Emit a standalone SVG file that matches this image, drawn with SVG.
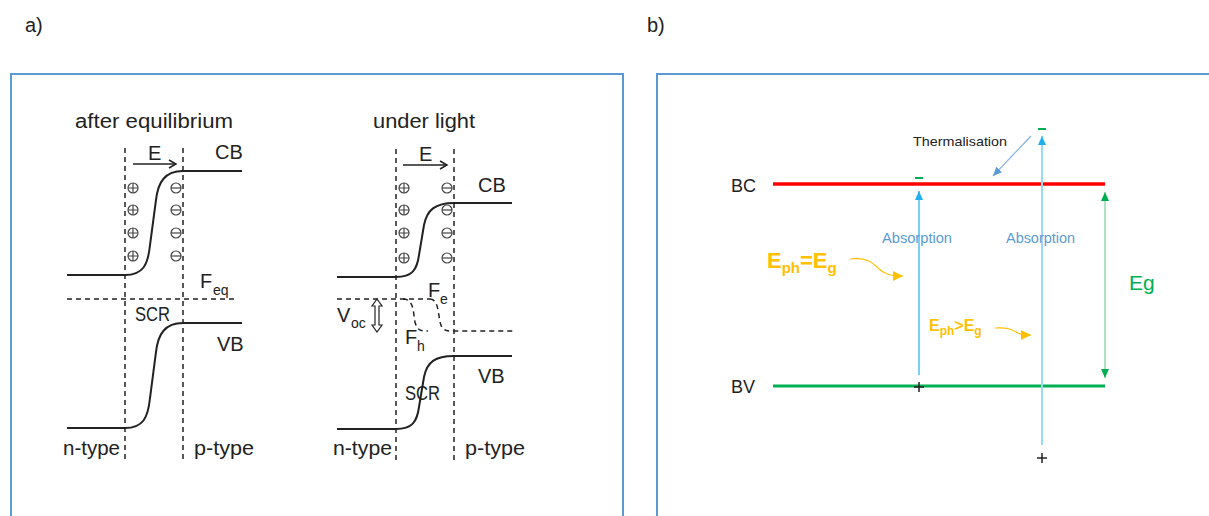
<svg xmlns="http://www.w3.org/2000/svg" xmlns:xlink="http://www.w3.org/1999/xlink" width="1209" height="516" viewBox="0 0 1209 516">
<style>
.t{font-family:"Liberation Sans",Arial,sans-serif;fill:#222;}
.a20{font-size:20px;}
.s14{font-size:14px;}
.band{fill:none;stroke:#222;stroke-width:2;}
.dash{fill:none;stroke:#222;stroke-width:1.5;stroke-dasharray:5,4;}
.box{fill:none;stroke:#5b9bd5;stroke-width:2;}
.chg{fill:none;stroke:#444;stroke-width:1.2;}
.or{font-family:"Liberation Sans",Arial,sans-serif;fill:#ffc000;font-weight:bold;}
.blu{font-family:"Liberation Sans",Arial,sans-serif;fill:#5b9bd5;font-size:14px;}
</style>
<defs>
<marker id="open" markerWidth="10" markerHeight="10" refX="8" refY="5" orient="auto" markerUnits="userSpaceOnUse">
<path d="M1,1 L8,5 L1,9" fill="none" stroke="#222" stroke-width="1.5"/>
</marker>
<marker id="cy" markerWidth="10" markerHeight="10" refX="9" refY="5" orient="auto" markerUnits="userSpaceOnUse">
<path d="M0,1 L9,5 L0,9 Z" fill="#1fb0f0"/>
</marker>
<marker id="gr" markerWidth="10" markerHeight="10" refX="9" refY="5" orient="auto-start-reverse" markerUnits="userSpaceOnUse">
<path d="M0,1 L9,5 L0,9 Z" fill="#00b050"/>
</marker>
<marker id="bl" markerWidth="10" markerHeight="10" refX="9" refY="5" orient="auto" markerUnits="userSpaceOnUse">
<path d="M0,1 L9,5 L0,9 Z" fill="#5b9bd5"/>
</marker>
<marker id="ora" markerWidth="12" markerHeight="12" refX="10" refY="6" orient="auto" markerUnits="userSpaceOnUse">
<path d="M0,1 L10,6 L0,11 Z" fill="#ffc000"/>
</marker>
<g id="pl"><circle r="5" class="chg"/><path d="M-5,0H5M0,-5V5" class="chg"/></g>
<g id="mi"><circle r="5" class="chg"/><path d="M-5,0H5" class="chg"/></g>
</defs>
<rect width="1209" height="516" fill="#fff"/>

<g id="labels">
<text x="25" y="32" class="t" font-size="20">a)</text>
<text x="647" y="32" class="t" font-size="20">b)</text>
</g>

<g id="panel-a">
<rect x="11" y="74" width="612" height="470" class="box"/>

<g id="eq-diagram">
<text x="75" y="128" class="t a20" textLength="158" lengthAdjust="spacingAndGlyphs">after equilibrium</text>
<path d="M125,148 V460 M183,148 V460" class="dash"/>
<path d="M67,299 H235" class="dash"/>
<path d="M133,164 H176" fill="none" stroke="#222" stroke-width="1.5" marker-end="url(#open)"/>
<text x="148" y="160" class="t a20">E</text>
<text x="215" y="159" class="t a20">CB</text>
<path d="M67,275 H125 C143,275 148,265 150,245 L156,200 C158,182 165,171 183,171 H242" class="band"/>
<use xlink:href="#pl" x="133" y="188"/><use xlink:href="#pl" x="133" y="210"/><use xlink:href="#pl" x="133" y="233"/><use xlink:href="#pl" x="133" y="256"/>
<use xlink:href="#mi" x="176" y="188"/><use xlink:href="#mi" x="176" y="210"/><use xlink:href="#mi" x="176" y="233"/><use xlink:href="#mi" x="176" y="256"/>
<text x="200" y="288" class="t a20">F</text><text x="213" y="295" class="t s14">eq</text>
<text x="135" y="321" class="t a20" textLength="35" lengthAdjust="spacingAndGlyphs">SCR</text>
<path d="M67,428 H125 C143,428 148,418 150,398 L156,352 C158,334 165,323 183,323 H242" class="band"/>
<text x="217" y="351" class="t a20">VB</text>
<text x="63" y="455" class="t a20" textLength="57" lengthAdjust="spacingAndGlyphs">n-type</text>
<text x="194" y="455" class="t a20" textLength="60" lengthAdjust="spacingAndGlyphs">p-type</text>
</g>

<g id="light-diagram">
<text x="373" y="128" class="t a20" textLength="102" lengthAdjust="spacingAndGlyphs">under light</text>
<path d="M396,149 V460 M454,149 V460" class="dash"/>
<path d="M403,165 H447" fill="none" stroke="#222" stroke-width="1.5" marker-end="url(#open)"/>
<text x="419" y="161" class="t a20">E</text>
<text x="478" y="192" class="t a20">CB</text>
<path d="M337,277 H396 C412,277 417,270 419,255 L424,225 C427,210 435,203 454,203 H512" class="band"/>
<use xlink:href="#pl" x="404" y="188"/><use xlink:href="#pl" x="404" y="210"/><use xlink:href="#pl" x="404" y="233"/><use xlink:href="#pl" x="404" y="258"/>
<use xlink:href="#mi" x="447" y="188"/><use xlink:href="#mi" x="447" y="210"/><use xlink:href="#mi" x="447" y="233"/><use xlink:href="#mi" x="447" y="258"/>
<path d="M337,299 H430" class="dash"/>
<path d="M403,299 C414,299 413,312 415,322 C417,330 420,331 428,331" class="dash"/>
<path d="M430,299 C438,299 438,312 440,322 C442,330 445,331 452,331 H513" class="dash"/>
<text x="428" y="297" class="t a20">F</text><text x="440" y="304" class="t s14">e</text>
<text x="405" y="344" class="t a20">F</text><text x="417" y="351" class="t s14">h</text>
<text x="337" y="322" class="t a20">V</text><text x="351" y="328" class="t s14">oc</text>
<path d="M377,299 L372,306 L375,306 L375,325 L372,325 L377,332 L382,325 L379,325 L379,306 L382,306 Z" fill="#fff" stroke="#222" stroke-width="1.2"/>
<path d="M337,429 H396 C412,429 417,422 419,407 L424,377 C427,362 435,356 454,356 H512" class="band"/>
<text x="478" y="383" class="t a20">VB</text>
<text x="405" y="400" class="t a20" textLength="35" lengthAdjust="spacingAndGlyphs">SCR</text>
<text x="333" y="455" class="t a20" textLength="59" lengthAdjust="spacingAndGlyphs">n-type</text>
<text x="465" y="455" class="t a20" textLength="60" lengthAdjust="spacingAndGlyphs">p-type</text>
</g>
</g>

<g id="panel-b">
<rect x="657" y="74" width="600" height="470" class="box"/>
<g id="BC">
<text x="731" y="192" class="t" font-size="18">BC</text>
<path d="M773,184 H1105" stroke="#ff0000" stroke-width="3.5" fill="none"/>
</g>
<g id="BV">
<text x="731" y="393" class="t" font-size="18">BV</text>
<path d="M773,386 H1105" stroke="#00b050" stroke-width="3" fill="none"/>
</g>
<g id="connectors">
<path d="M919,375 V191" stroke="#1fb0f0" stroke-width="1.2" fill="none" marker-end="url(#cy)"/>
<path d="M1042,445 V136" stroke="#9bdaf6" stroke-width="2" fill="none" marker-end="url(#cy)"/>
<path d="M1105,192 V378" stroke="#80d4a0" stroke-width="1.3" fill="none" marker-start="url(#gr)" marker-end="url(#gr)"/>
<path d="M1031,136 L993,176" stroke="#8ab4e0" stroke-width="1.2" fill="none" marker-end="url(#bl)"/>
<path d="M850,259 C866,257 872,262 878,268 C884,274 890,276 903,276" stroke="#ffc000" stroke-width="1.2" fill="none" marker-end="url(#ora)"/>
<path d="M995,328 C1008,327 1013,330 1018,333 C1022,335 1025,335 1031,335" stroke="#ffc000" stroke-width="1.2" fill="none" marker-end="url(#ora)"/>
</g>
<g id="carriers">
<path d="M915,178 H923 M1038,129 H1046" stroke="#00b050" stroke-width="2"/>
<path d="M914,387 H924 M919,382 V392 M1037,458 H1047 M1042,453 V463" stroke="#222" stroke-width="1.5"/>
</g>
<text x="913" y="146" class="t" font-size="13" textLength="94" lengthAdjust="spacingAndGlyphs">Thermalisation</text>
<text x="882" y="243" class="blu" textLength="70" lengthAdjust="spacingAndGlyphs">Absorption</text>
<text x="1006" y="243" class="blu" textLength="69" lengthAdjust="spacingAndGlyphs">Absorption</text>
<text x="1129" y="290" font-family="Liberation Sans,Arial,sans-serif" font-size="21" fill="#00b050">Eg</text>
<text x="767" y="268" class="or" font-size="22">E<tspan font-size="15" dy="5">ph</tspan><tspan dy="-5">=E</tspan><tspan font-size="15" dy="5">g</tspan></text>
<text x="929" y="331" class="or" font-size="16">E<tspan font-size="12" dy="4">ph</tspan><tspan dy="-4">&gt;E</tspan><tspan font-size="12" dy="4">g</tspan></text>
</g>
</svg>
